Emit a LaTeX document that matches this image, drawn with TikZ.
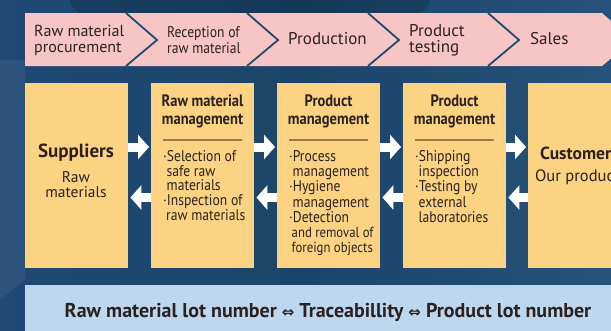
\documentclass[tikz,border=0pt]{standalone}
\usepackage{fontspec}
\setmainfont{PT Sans}
\newfontfamily\cf[FakeStretch=0.88]{PT Sans}
\newfontfamily\arrf{DejaVu Sans}
\usetikzlibrary{arrows.meta,calc}
\definecolor{pinkc}{HTML}{F7C5C3}
\definecolor{boxc}{HTML}{FCD283}
\definecolor{barc}{HTML}{BDD7EF}
\definecolor{txtc}{HTML}{2B2220}
\definecolor{chevl}{HTML}{1D4B74}
\definecolor{rulec}{HTML}{9B7B4E}
\definecolor{bgA}{HTML}{2C5C8C}
\definecolor{bgB}{HTML}{204B78}
\definecolor{bgC}{HTML}{1B4468}
\definecolor{bgD}{HTML}{26537B}
\definecolor{bgE}{HTML}{33648F}
\pgfdeclarehorizontalshading{bgsh}{100bp}{color(0bp)=(bgA); color(20bp)=(bgB); color(50bp)=(bgC); color(75bp)=(bgD); color(100bp)=(bgE)}
\begin{document}
\begin{tikzpicture}[x=1pt,y=-1pt,
  box/.style={fill=boxc, draw=none, inner sep=0pt, minimum width=103pt, minimum height=185pt, anchor=north west},
  chtext/.style={text=txtc, align=left, anchor=west, inner sep=0pt, font=\fontsize{16}{16}\selectfont},
  head/.style={text=txtc, align=center, inner sep=0pt, font=\cf\bfseries\fontsize{16.5}{18}\selectfont},
  bul/.style={text=txtc, align=left, inner sep=0pt, anchor=north west, font=\cf\fontsize{15.5}{14.8}\selectfont},
  sep/.style={draw=rulec, line width=1.5pt},
  rarr/.style={draw=white, line width=9pt, -{Triangle[width=24pt,length=11pt]}},
  chev/.style={draw=chevl, line width=1.8pt}
]
\useasboundingbox (0,0) rectangle (611,330);
\begin{scope}
\clip (0,0) rectangle (611,330);
% background
\shade[shading=bgsh] (0,0) rectangle (611,330);
\fill[black, opacity=0.15] (250,0) ellipse (180pt and 40pt);
\fill[white, opacity=0.06] (0,60) -- (25,60) -- (25,280) -- (0,300) -- cycle;
% chevron band
\fill[pinkc] (25,13) -- (602,13) -- (633,40) -- (602,66) -- (25,66) -- cycle;
\foreach \d in {126,247,368,488}{
  \draw[chev] (\d,13) -- (\d+31,40) -- (\d,66);
}
\node[chtext] (c1) at (34,40) {Raw material\\procurement};
\node[chtext, font=\cf\fontsize{15.5}{15.5}\selectfont] (c2) at (167,40) {Reception of\\raw material};
\node[chtext, font=\fontsize{17}{16}\selectfont] (c3) at (288,39) {Production};
\node[chtext, font=\fontsize{17}{16}\selectfont] (c4) at (409,40) {Product\\testing};
\node[chtext, font=\fontsize{17}{16}\selectfont] (c5) at (530,39) {Sales};
% boxes
\node[box] (b1) at (25,83) {};
\node[box] (b2) at (151,83) {};
\node[box] (b3) at (277,83) {};
\node[box] (b4) at (403,83) {};
\node[box, minimum width=110pt] (b5) at (528,83) {};
% box 1
\node[text=txtc, inner sep=0pt, font=\bfseries\fontsize{19}{20}\selectfont] (sup) at (76,153) {Suppliers};
\node[text=txtc, inner sep=0pt, align=center, font=\fontsize{15.5}{15}\selectfont] (raw) at (76,184.5) {Raw\\materials};
% box 2
\node[head] (h2) at (202.5,111) {Raw material\\management};
\draw[sep] ($(b2.north west)+(12,57)$) -- ($(b2.north east)+(-12,57)$);
\node[bul] (t2) at (163,150) {·Selection of\\\hspace*{3.5pt}safe raw\\\hspace*{3.5pt}materials\\·Inspection of\\\hspace*{3pt}raw materials};
% box 3
\node[head] (h3) at (328.5,111) {Product\\management};
\draw[sep] ($(b3.north west)+(12,57)$) -- ($(b3.north east)+(-12,57)$);
\node[bul, font=\cf\fontsize{15.5}{15.3}\selectfont] (t3) at (289,150) {·Process\\\hspace*{3.5pt}management\\·Hygiene\\\hspace*{3.5pt}management\\·Detection\\\hspace*{2.5pt}{\fontsize{14.5}{15.3}\selectfont and removal of}\\\hspace*{2.5pt}{\fontsize{14.5}{15.3}\selectfont foreign objects}};
% box 4
\node[head] (h4) at (454.5,111) {Product\\management};
\draw[sep] ($(b4.north west)+(12,57)$) -- ($(b4.north east)+(-12,57)$);
\node[bul, font=\cf\fontsize{15.5}{15.3}\selectfont] (t4) at (415,150) {·Shipping\\\hspace*{3.5pt}inspection\\·Testing by\\\hspace*{3.5pt}external\\\hspace*{3.5pt}laboratories};
% box 5
\node[text=txtc, inner sep=0pt, anchor=west, font=\bfseries\fontsize{17.5}{20}\selectfont] (cus) at (540,153) {Customers};
\node[text=txtc, inner sep=0pt, anchor=west, font=\fontsize{16.5}{15}\selectfont] (our) at (535,177) {Our products};
% arrows
\draw[rarr] (b1.east |- 0,147) -- ([xshift=-2pt]b2.west |- 0,147);
\draw[rarr] (b2.west |- 0,197.5) -- ([xshift=2pt]b1.east |- 0,197.5);
\draw[rarr] (b2.east |- 0,147) -- ([xshift=-2pt]b3.west |- 0,147);
\draw[rarr] (b3.west |- 0,197.5) -- ([xshift=2pt]b2.east |- 0,197.5);
\draw[rarr] (b3.east |- 0,147) -- ([xshift=-2pt]b4.west |- 0,147);
\draw[rarr] (b4.west |- 0,197.5) -- ([xshift=2pt]b3.east |- 0,197.5);
\draw[rarr] (b4.east |- 0,147) -- ([xshift=-2pt]b5.west |- 0,147);
\draw[rarr] (b5.west |- 0,197.5) -- ([xshift=2pt]b4.east |- 0,197.5);
% bottom bar
\fill[barc] (25,285) rectangle (640,340);
\node[text=txtc, inner sep=0pt, font=\bfseries\fontsize{20}{20}\selectfont] (trace) at (328,312) {Raw material lot number {\arrf\fontsize{15}{16}\selectfont ⇔} Traceabillity {\arrf\fontsize{15}{16}\selectfont ⇔} Product lot number};
\end{scope}
\end{tikzpicture}
\end{document}
